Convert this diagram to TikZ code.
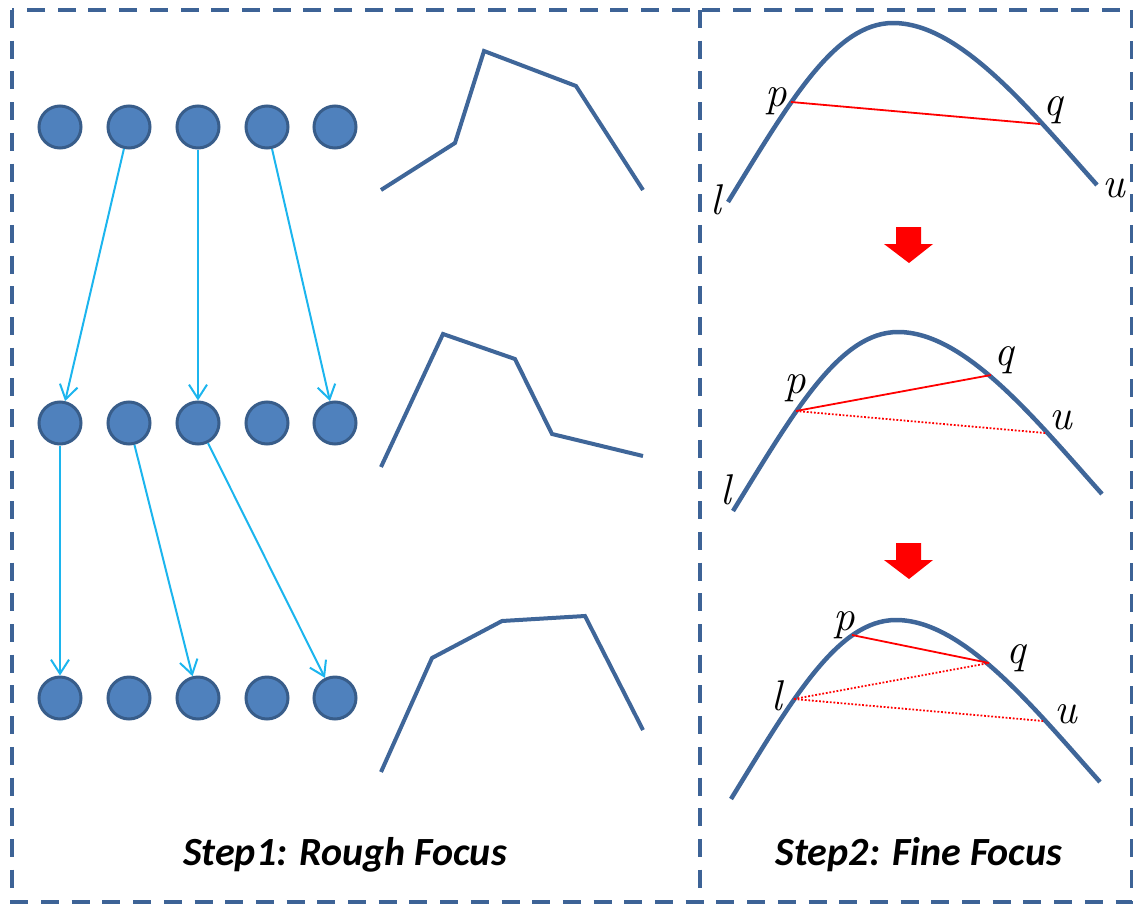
\documentclass[tikz,border=0pt]{standalone}
\usepackage{fontspec}
\newfontfamily\labelfont{Carlito}
\usetikzlibrary{arrows.meta}
\definecolor{frameblue}{HTML}{3D6396}
\definecolor{nodefill}{HTML}{4F81BD}
\definecolor{nodeedge}{HTML}{385D8A}
\definecolor{linkblue}{HTML}{1CB5EE}
\definecolor{curveblue}{HTML}{3F6699}
\begin{document}
\begin{tikzpicture}[x=1pt,y=-1pt,
  neuron/.style={circle, fill=nodefill, draw=nodeedge, line width=3pt, minimum size=42pt, inner sep=0pt},
  link/.style={draw=linkblue, line width=2pt, -{Straight Barb[length=14pt,width=18pt]}},
  frame/.style={draw=frameblue, line width=3.5pt, dash pattern=on 18pt off 12.7pt},
  trend/.style={draw=curveblue, line width=4pt, line join=miter},
  curve/.style={draw=curveblue, line width=4.5pt},
  chord/.style={draw=red, line width=1.8pt},
  chorddot/.style={draw=red, line width=1.8pt, dash pattern=on 1.8pt off 1.8pt},
  var/.style={inner sep=0pt, font=\itshape\fontsize{43}{43}\selectfont},
  caption/.style={anchor=base, inner sep=0pt, font=\labelfont\bfseries\itshape\fontsize{40}{42}\selectfont}
]
\useasboundingbox (0,0) rectangle (1133,905);

% dashed frame and divider
\draw[frame] (12,10) rectangle (1132,902);
\draw[frame] (700,10) -- (700,902);

% three rows of neurons
\foreach \r/\y in {1/127,2/423,3/698}
  \foreach \c/\x in {1/60,2/129,3/198,4/267,5/335}
    \node[neuron] (n\r\c) at (\x,\y) {};

% focus links between rows
\draw[link] (n12) -- (n21);
\draw[link] (n13) -- (n23);
\draw[link] (n14) -- (n25);
\draw[link] (n21) -- (n31);
\draw[link] (n22) -- (n33);
\draw[link] (n23) -- (n35);

% response profiles
\draw[trend] (381,190) -- (455,143) -- (484,51) -- (576,86) -- (643,190);
\draw[trend] (381,467) -- (443,334) -- (515,359) -- (552,434) -- (643,456);
\draw[trend] (381,772) -- (432,658) -- (502,621) -- (585,616) -- (643,730);

% concave curves with search points
\foreach \k/\dx/\dy in {1/0/0, 2/5/309, 3/3/597} {
  \begin{scope}[shift={(\dx,\dy)}]
    \draw[curve] (728,202) .. controls (790,101) and (835,23) .. (893,23)
                 .. controls (960,23) and (1030,110) .. (1097,185);
    \coordinate (c\k A) at (791,102);
    \coordinate (c\k B) at (849,38);
    \coordinate (c\k C) at (986,66);
    \coordinate (c\k D) at (1040,124);
  \end{scope}
}

% step 1 of fine search
\draw[chord] (c1A) -- (c1D);
\node[var] (l1) at (716,200) {l};
\node[var] (p1) at (776,101) {p};
\node[var] (q1) at (1053,110) {q};
\node[var] (u1) at (1114,188) {u};

% step 2
\draw[chord] (c2A) -- (c2C);
\draw[chorddot] (c2A) -- (c2D);
\node[var] (l2) at (726,490) {l};
\node[var] (p2) at (795,388) {p};
\node[var] (q2) at (1004,360) {q};
\node[var] (u2) at (1061,420) {u};

% step 3
\draw[chord] (c3B) -- (c3C);
\draw[chorddot] (c3A) -- (c3C);
\draw[chorddot] (c3A) -- (c3D);
\node[var] (l3) at (777,696) {l};
\node[var] (p3) at (844,625) {p};
\node[var] (q3) at (1016,658) {q};
\node[var] (u3) at (1066,714) {u};

% block arrows between stages
\foreach \t in {227,543}
  \fill[red] (896,\t) -- (921,\t) -- (921,\t+17) -- (933,\t+17) -- (909,\t+36)
    -- (884,\t+17) -- (896,\t+17) -- cycle;

% captions
\node[caption] (cap1) at (345,865) {Step1: Rough Focus};
\node[caption] (cap2) at (919,865) {Step2: Fine Focus};
\end{tikzpicture}
\end{document}
